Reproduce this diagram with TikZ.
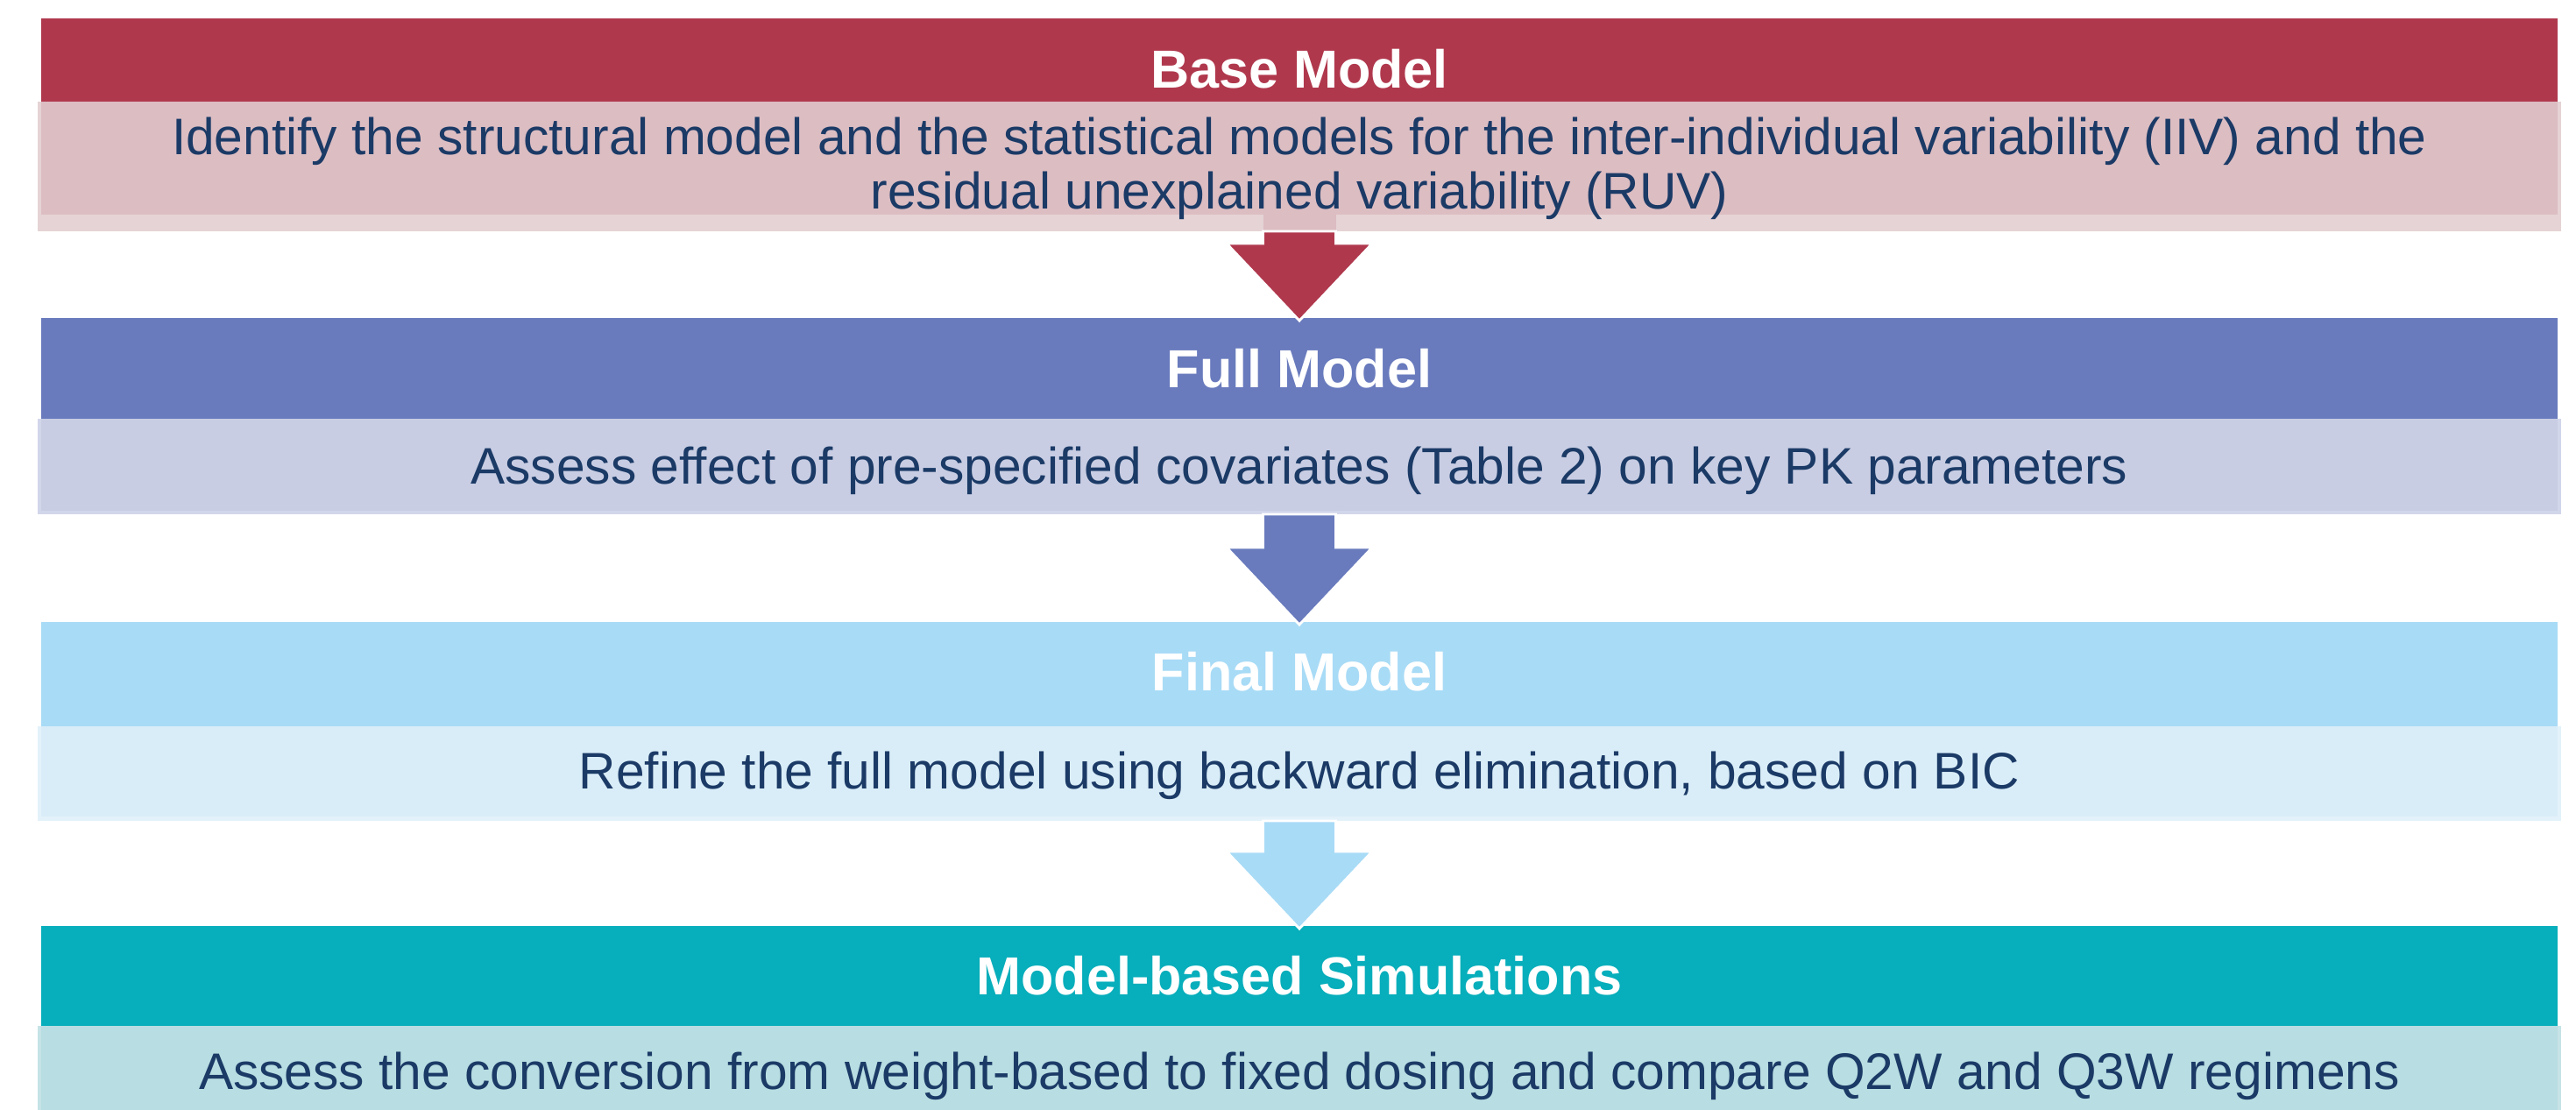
\documentclass[tikz,border=0pt]{standalone}
\usepackage{fontspec}
\setmainfont{Liberation Sans}
\usetikzlibrary{calc}
\definecolor{redH}{HTML}{B0384D}
\definecolor{pinkI}{HTML}{DCBDC2}
\definecolor{pinkO}{HTML}{E5D3D6}
\definecolor{blueH}{HTML}{697BBD}
\definecolor{lavI}{HTML}{C8CDE3}
\definecolor{lavO}{HTML}{D2D6EA}
\definecolor{skyH}{HTML}{A8DBF6}
\definecolor{skyI}{HTML}{D9EDF8}
\definecolor{skyO}{HTML}{E3F2FA}
\definecolor{tealH}{HTML}{07AEBB}
\definecolor{tealI}{HTML}{B8DDE2}
\definecolor{tealO}{HTML}{C6E3E7}
\definecolor{navy}{HTML}{1B3A66}
\newcommand{\flowarrow}[3]{%
  \fill[#3, draw=white, line width=0.8pt] let \p1=(#1.south), \p2=(#2.north) in
  (\x1-0.415cm,\y1) -- (\x1+0.415cm,\y1) -- (\x1+0.415cm,\y2+0.85cm) -- (\x1+0.83cm,\y2+0.85cm)
  -- (\x1,\y2-0.03cm) -- (\x1-0.83cm,\y2+0.85cm) -- (\x1-0.415cm,\y2+0.85cm) -- cycle;}
\tikzset{
  band/.style={rectangle, inner sep=0pt, outer sep=0pt, anchor=north west},
  hdr/.style={band, minimum width=28.72cm},
  bodyout/.style={band, minimum width=28.80cm},
  bodyin/.style={band, minimum width=28.72cm},
  htext/.style={anchor=base, text=white, inner sep=0pt, font=\fontsize{17.4pt}{21pt}\selectfont\bfseries},
  btext/.style={anchor=base, text=navy, inner sep=0pt, font=\fontsize{16.7pt}{20pt}\selectfont},
}
\begin{document}
\begin{tikzpicture}
\useasboundingbox (0,0) rectangle (29.4,-12.67);
% Base model
\node[hdr, fill=redH, minimum height=0.95cm] (h1) at (0.47,-0.21) {};
\node[bodyout, fill=pinkO, minimum height=1.48cm] (b1) at (0.43,-1.16) {};
\node[bodyin, fill=pinkI, minimum height=1.29cm] (b1i) at (0.47,-1.16) {};
\node[htext] (t1) at (14.83,-1.00) {Base Model};
\node[btext] (s1a) at (14.83,-1.76) {Identify the structural model and the statistical models for the inter-individual variability (IIV) and the};
\node[btext] (s1b) at (14.83,-2.38) {residual unexplained variability (RUV)};
% Full model
\node[hdr, fill=blueH, minimum height=1.15cm] (h2) at (0.47,-3.63) {};
\node[bodyout, fill=lavO, minimum height=1.09cm] (b2) at (0.43,-4.78) {};
\node[bodyin, fill=lavI, minimum height=1.05cm] (b2i) at (0.47,-4.78) {};
\node[htext] (t2) at (14.83,-4.42) {Full Model};
\node[btext] (s2) at (14.83,-5.52) {Assess effect of pre-specified covariates (Table 2) on key PK parameters};
% Final model
\node[hdr, fill=skyH, minimum height=1.19cm] (h3) at (0.47,-7.10) {};
\node[bodyout, fill=skyO, minimum height=1.08cm] (b3) at (0.43,-8.29) {};
\node[bodyin, fill=skyI, minimum height=1.03cm] (b3i) at (0.47,-8.29) {};
\node[htext] (t3) at (14.83,-7.88) {Final Model};
\node[btext] (s3) at (14.83,-9.00) {Refine the full model using backward elimination, based on BIC};
% Simulations
\node[hdr, fill=tealH, minimum height=1.14cm] (h4) at (0.47,-10.57) {};
\node[bodyout, fill=tealO, minimum height=0.96cm] (b4) at (0.43,-11.71) {};
\node[bodyin, fill=tealI, minimum height=0.96cm] (b4i) at (0.47,-11.71) {};
\node[htext] (t4) at (14.83,-11.35) {Model-based Simulations};
\node[btext] (s4) at (14.83,-12.43) {Assess the conversion from weight-based to fixed dosing and compare Q2W and Q3W regimens};
% arrows
\fill[pinkI] (14.42,-2.45) rectangle (15.25,-2.64);
\flowarrow{b1}{h2}{redH}
\flowarrow{b2}{h3}{blueH}
\flowarrow{b3}{h4}{skyH}
\end{tikzpicture}
\end{document}
